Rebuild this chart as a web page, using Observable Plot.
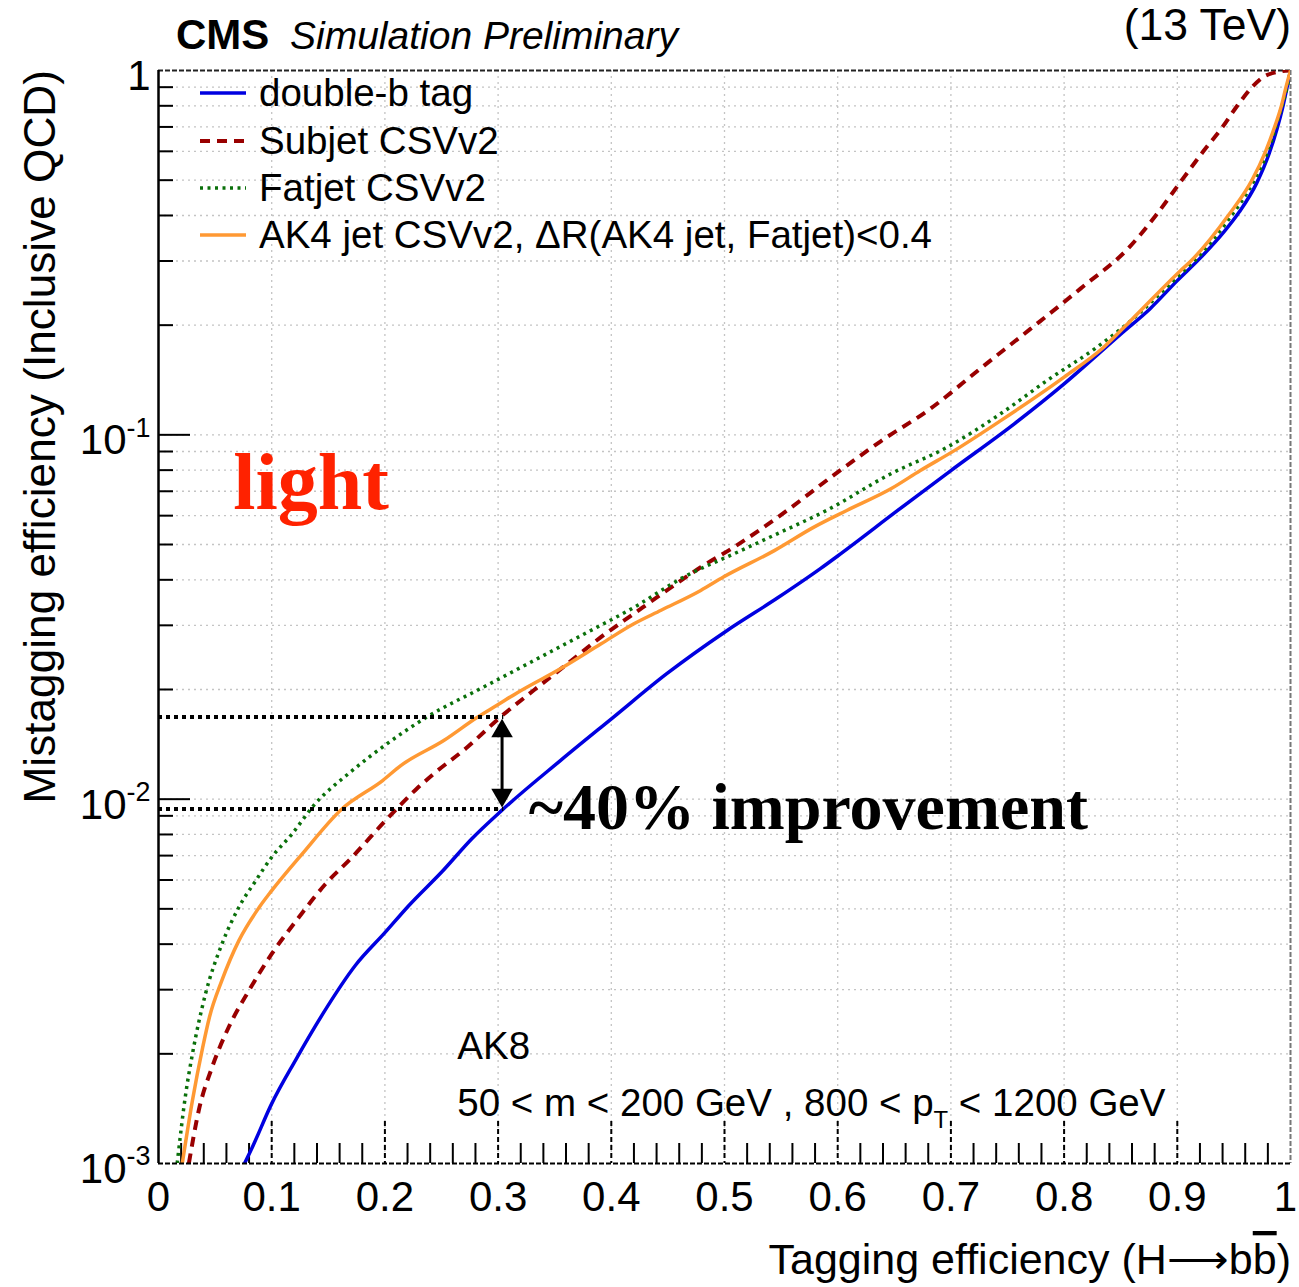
<!DOCTYPE html>
<html><head><meta charset="utf-8">
<script src="https://cdn.jsdelivr.net/npm/d3@7"></script>
<script src="https://cdn.jsdelivr.net/npm/@observablehq/plot@0.6"></script>
<style>
html,body{margin:0;padding:0;background:#fff;}
#chart{width:1299px;height:1287px;}
</style></head><body>
<div id="chart"></div>
<script>
// ---------------- data ----------------
const doubleB_eff = [0.076,0.083,0.100,0.121,0.145,0.174,0.200,0.221,0.251,0.277,0.303,0.355,0.402,0.449,0.502,0.547,0.585,0.600,0.653,0.700,0.756,0.800,0.850,0.876,0.900,0.920,0.941,0.955,0.970,0.981,0.988,0.993,0.997,1.000];
const doubleB_mis = [0.00100,0.00111,0.00146,0.00192,0.00257,0.00350,0.00430,0.00510,0.00635,0.00780,0.0093,0.01276,0.0168,0.0221,0.0290,0.0357,0.0430,0.0465,0.0620,0.0798,0.1072,0.138,0.189,0.222,0.265,0.305,0.360,0.410,0.490,0.590,0.690,0.790,0.900,1.000];

const subjet_eff = [0.0268,0.0356,0.0474,0.0621,0.0798,0.100,0.124,0.1475,0.171,0.2005,0.227,0.243,0.2727,0.302,0.3315,0.361,0.3905,0.420,0.449,0.479,0.508,0.550,0.594,0.638,0.682,0.726,0.770,0.8145,0.8587,0.881,0.904,0.923,0.940,0.953,0.966,0.976,0.988,1.000];
const subjet_mis = [0.00100,0.00140,0.00184,0.00237,0.00298,0.00376,0.00474,0.00585,0.00693,0.00873,0.0106,0.01173,0.01388,0.0168,0.0199,0.0235,0.0278,0.0323,0.0374,0.0433,0.0491,0.0603,0.0765,0.0960,0.1180,0.1520,0.1950,0.252,0.330,0.400,0.500,0.600,0.700,0.800,0.900,0.960,0.990,1.000];

const fatjet_eff = [0.0165,0.024,0.030,0.0415,0.056,0.071,0.086,0.100,0.118,0.137,0.170,0.202,0.237,0.287,0.3315,0.376,0.420,0.464,0.508,0.5465,0.590,0.6466,0.6967,0.7438,0.785,0.829,0.8557,0.903,0.915,0.944,0.968,0.980,0.987,0.9925,0.997,1.000];
const fatjet_mis = [0.00100,0.00155,0.00200,0.00292,0.00400,0.00505,0.00598,0.00693,0.00803,0.0096,0.0119,0.0142,0.0168,0.0203,0.0240,0.0284,0.0336,0.0407,0.0471,0.0535,0.0620,0.0781,0.0925,0.1142,0.141,0.174,0.2017,0.2766,0.300,0.385,0.500,0.600,0.700,0.800,0.900,1.000];

const ak4_eff = [0.021,0.030,0.039,0.045,0.056,0.071,0.089,0.100,0.127,0.162,0.198,0.214,0.252,0.282,0.299,0.317,0.355,0.391,0.420,0.444,0.479,0.499,0.544,0.579,0.608,0.647,0.673,0.703,0.744,0.800,0.835,0.859,0.903,0.912,0.945,0.966,0.978,0.986,0.992,0.996,1.000];
const ak4_mis = [0.00100,0.00149,0.00208,0.00252,0.00318,0.00409,0.00505,0.00561,0.00708,0.00940,0.01125,0.01236,0.01448,0.0168,0.0181,0.0196,0.0228,0.0267,0.0303,0.0330,0.0374,0.0407,0.0481,0.0558,0.0620,0.0711,0.0798,0.0905,0.1094,0.144,0.174,0.206,0.2825,0.300,0.400,0.500,0.600,0.700,0.800,0.900,1.000];

const seriesNames  = ["double-b tag", "Subjet CSVv2", "Fatjet CSVv2", "AK4 jet CSVv2, \u0394R(AK4 jet, Fatjet)<0.4"];
const seriesColors = ["#0000e0", "#990000", "#0a700a", "#ff9933"];
const seriesDash   = [null, "10,7", "3,4.5", null];
const seriesWidth  = [3.5, 4, 3.5, 3.5];

const xTickValues = [0,0.1,0.2,0.3,0.4,0.5,0.6,0.7,0.8,0.9,1];
const xTickLabels = ["0","0.1","0.2","0.3","0.4","0.5","0.6","0.7","0.8","0.9","1"];
const yTickValues = [0.001,0.01,0.1,1];
const yTickLabels = ["10^{-3}","10^{-2}","10^{-1}","1"];

// working-point annotation (mistag levels at ~30% tagging efficiency)
const wpLevels = [0.0168, 0.0094];
const wpEff = 0.305;
const arrowEff = 0.3035;

const annoLight   = {x: 0.066, y: 0.0735, text: "light"};
const annoImprove = {x: 0.327, y: 0.00945, text: "~40% improvement"};
const annoAK8     = {x: 0.264, y: 0.00209, text: "AK8"};
const annoCuts    = {x: 0.264, y: 0.00146, text: "50 < m < 200 GeV , 800 < p_{T} < 1200 GeV"};

// ---------------- layout ----------------
const W = 1299, H = 1287;
const mL = 158, mR = 9, mT = 70, mB = 124;
const frameW = W - mL - mR, frameH = H - mT - mB;

const rows = [];
[[doubleB_eff, doubleB_mis],[subjet_eff, subjet_mis],[fatjet_eff, fatjet_mis],[ak4_eff, ak4_mis]].forEach(([ex, my], s) => {
  ex.forEach((e, i) => rows.push({series: seriesNames[s], eff: e, mis: my[i]}));
});

const xMinor = d3.range(0, 51).map(i => i / 50).filter(v => Math.round(v * 50) % 5 !== 0);
const xMajorInner = xTickValues.slice(1, -1);
const yMinor = [];
for (const dec of [0.001, 0.01, 0.1]) for (let k = 2; k <= 9; k++) yMinor.push(k * dec);
const yMajorInner = [0.01, 0.1];
const yGrid = yMinor.concat(yMajorInner);

const gridStyle = {stroke: "#c4c4c4", strokeWidth: 1.3, strokeDasharray: "2,4"};

const lineMarks = seriesNames.map((name, s) =>
  Plot.line(rows.filter(r => r.series === name), {
    x: "eff", y: "mis", stroke: seriesColors[s], strokeWidth: seriesWidth[s],
    strokeDasharray: seriesDash[s] ?? undefined, strokeLinecap: "butt",
    curve: "monotone-x", clip: true
  })
);

const svg = Plot.plot({
  width: W, height: H,
  marginLeft: mL, marginRight: mR, marginTop: mT, marginBottom: mB,
  x: {domain: [0, 1]},
  y: {type: "log", domain: [0.001, 1]},
  style: {fontFamily: "'Liberation Sans', Arial, Helvetica, sans-serif", background: "white", color: "black"},
  marks: [
    Plot.ruleX(xMajorInner, gridStyle),
    Plot.ruleY(yGrid, gridStyle),
    // frame
    Plot.ruleY([1], {stroke: "#222", strokeWidth: 2, strokeDasharray: "5,2"}),
    Plot.ruleX([1], {stroke: "#777", strokeWidth: 2, strokeDasharray: "5,2"}),
    // ticks
    Plot.tickX(xMinor, {insetTop: frameH - 20, stroke: "black", strokeWidth: 2}),
    Plot.tickX(xMajorInner, {insetTop: frameH - 42, stroke: "black", strokeWidth: 2, strokeDasharray: "5,3"}),
    Plot.tickY(yMinor, {insetRight: frameW - 15, stroke: "black", strokeWidth: 2}),
    Plot.tickY(yMajorInner, {insetRight: frameW - 32, stroke: "black", strokeWidth: 2}),
    // tick labels
    Plot.axisX({ticks: xTickValues.slice(0, -1), tickSize: 0, tickPadding: 18, fontSize: 42, label: null,
      tickFormat: d => xTickLabels[Math.round(d * 10)]}),
    Plot.axisX({ticks: xTickValues.slice(-1), tickSize: 0, tickPadding: 18, fontSize: 42, label: null, dx: -5,
      tickFormat: d => xTickLabels[Math.round(d * 10)]}),
    Plot.axisY({ticks: yTickValues, tickSize: 0, tickPadding: 8, fontSize: 42, label: null, dy: 6,
      tickFormat: d => yTickLabels[yTickValues.findIndex(v => Math.abs(Math.log10(v) - Math.log10(d)) < 1e-6)]}),
    // curves
    ...lineMarks,
    // working-point guides
    Plot.ruleY(wpLevels, {x1: 0, x2: wpEff, stroke: "black", strokeWidth: 4, strokeDasharray: "4,4"}),
    Plot.ruleX([arrowEff], {y1: wpLevels[0], y2: wpLevels[1], insetTop: 8, insetBottom: 8, stroke: "black", strokeWidth: 3}),
    Plot.dot([{x: arrowEff, y: wpLevels[0]}], {x: "x", y: "y", symbol: "triangle", r: 8, fill: "black", dy: 14}),
    Plot.dot([{x: arrowEff, y: wpLevels[1]}], {x: "x", y: "y", symbol: "triangle", r: 8, fill: "black", rotate: 180, dy: -14}),
    // frame lines drawn last
    Plot.ruleY([0.001], {stroke: "black", strokeWidth: 2, strokeDasharray: "5,2"}),
    Plot.ruleX([0], {stroke: "black", strokeWidth: 2.5}),
    // annotations
    Plot.text([annoLight], {x: "x", y: "y", text: "text", textAnchor: "start", lineAnchor: "middle",
      fontFamily: "'Liberation Serif', 'Times New Roman', serif", fontWeight: "bold", fontSize: 80, fill: "#ff2200"}),
    Plot.text([annoImprove], {x: "x", y: "y", text: "text", textAnchor: "start", lineAnchor: "middle",
      fontFamily: "'Liberation Serif', 'Times New Roman', serif", fontWeight: "bold", fontSize: 66, fill: "black"}),
    Plot.text([annoAK8, annoCuts], {x: "x", y: "y", text: "text", textAnchor: "start", lineAnchor: "middle",
      fontSize: 38.5, fill: "black"})
  ]
});

document.getElementById("chart").appendChild(svg);

// ---------------- non-data text: header, axis titles, legend ----------------
const root = d3.select(svg);
const FONT = "'Liberation Sans', Arial, Helvetica, sans-serif";
const txt = (x, y, size, s, anchor = "start") => root.append("text").attr("x", x).attr("y", y)
  .attr("font-family", FONT).attr("font-size", size).attr("text-anchor", anchor).attr("fill", "black").text(s);
txt(176, 49, 42, "CMS").attr("font-weight", "bold");
txt(290, 49, 39, "Simulation Preliminary").attr("font-style", "italic");
txt(1291, 40, 44.5, "(13 TeV)", "end");
root.append("text").attr("transform", "translate(55,70) rotate(-90)").attr("font-family", FONT)
  .attr("text-anchor", "end").attr("font-size", 44.2).attr("fill", "black").text("Mistagging efficiency (Inclusive QCD)");
txt(1291, 1274, 43, "Tagging efficiency (H\u27F6b#bar{b})", "end");

const legendRows = [93, 141, 188, 235];
const lg = root.append("g");
seriesNames.forEach((name, s) => {
  const yy = legendRows[s];
  const ln = lg.append("line").attr("x1", 200).attr("x2", 246).attr("y1", yy).attr("y2", yy)
    .attr("stroke", seriesColors[s]).attr("stroke-width", seriesWidth[s]);
  if (seriesDash[s]) ln.attr("stroke-dasharray", seriesDash[s]);
  txt(259, yy + 13, 38.5, name);
});

// ---------------- rich text (superscripts, subscripts, overline) ----------------
function richText(el) {
  const s = el.textContent;
  const re = /\^\{([^}]*)\}|_\{([^}]*)\}|#bar\{([^}]*)\}/g;
  if (!/\^\{|_\{|#bar\{/.test(s)) return;
  const size = parseFloat(getComputedStyle(el).fontSize) || 40;
  const ns = "http://www.w3.org/2000/svg";
  while (el.firstChild) el.removeChild(el.firstChild);
  let last = 0, cur = 0, m;
  const add = (t0, off, fs, deco) => {
    if (!t0) return;
    const t = document.createElementNS(ns, "tspan");
    t.textContent = t0;
    const d = off - cur;
    if (d) t.setAttribute("dy", (-d).toFixed(2));
    cur = off;
    if (fs) t.setAttribute("font-size", fs.toFixed(1));
    if (deco) t.setAttribute("text-decoration", deco);
    el.appendChild(t);
  };
  while ((m = re.exec(s))) {
    add(s.slice(last, m.index), 0, null, null);
    if (m[1] !== undefined) add(m[1], 0.42 * size, 0.64 * size, null);
    else if (m[2] !== undefined) add(m[2], -0.32 * size, 0.62 * size, null);
    else add(m[3], 0, null, "overline");
    last = re.lastIndex;
  }
  add(s.slice(last), 0, null, null);
}
svg.querySelectorAll("text").forEach(richText);
</script>
</body></html>
